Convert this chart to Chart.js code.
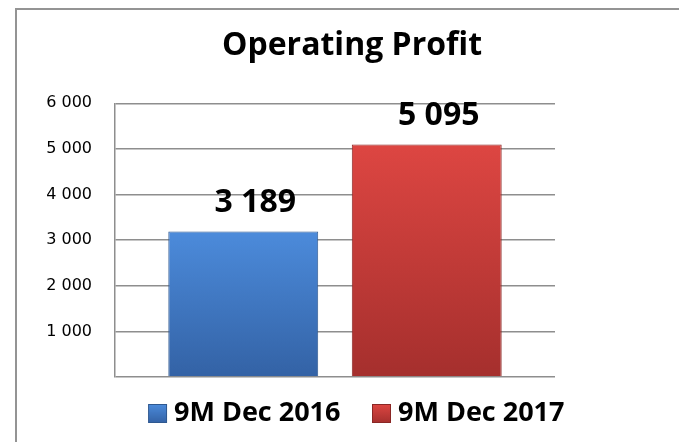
<!DOCTYPE html>
<html>
<head>
<meta charset="utf-8">
<script src="https://cdn.jsdelivr.net/npm/chart.js@4/dist/chart.umd.min.js"></script>
<style>
  html, body { margin: 0; padding: 0; background: #fff; overflow: hidden; width: 679px; height: 442px; }
  .frame { position: absolute; left: 15px; top: 8px; border: 2px solid #949494; width: 670px; height: 445px; }
  canvas { display: block; }
</style>
</head>
<body>
<div class="frame"><canvas id="profitChart" width="670" height="445"></canvas></div>
<script>
const titleText = 'Operating Profit';
const seriesLabels = ['9M Dec 2016', '9M Dec 2017'];
const seriesValues = [3189, 5095];
const categories = [''];
const yMax = 6000;
const yStep = 1000;

const topColors = ['#4c8bdb', '#dd4642'];
const bottomColors = ['#3362a5', '#a52f2d'];
const edgeColors = ['#2e5890', '#8a2725'];

// space as thousands separator, like the original
function fmt(v) {
    return String(v).replace(/\B(?=(\d{3})+(?!\d))/g, ' ');
}

function barFill(i) {
    return function(ctx) {
        const chart = ctx.chart;
        if (!chart.chartArea || !chart.scales.y) {
            return topColors[i];
        }
        const y = chart.scales.y;
        const top = y.getPixelForValue(seriesValues[i]);
        const bottom = y.getPixelForValue(0);
        const g = chart.ctx.createLinearGradient(0, top, 0, bottom);
        g.addColorStop(0, topColors[i]);
        g.addColorStop(1, bottomColors[i]);
        return g;
    };
}

// legend square: 40px wide image, the square sits at 18..37 so it ends just before the text
function legendBox(i) {
    const c = document.createElement('canvas');
    c.width = 40;
    c.height = 19;
    const cx = c.getContext('2d');
    const g = cx.createLinearGradient(0, 0, 0, 19);
    g.addColorStop(0, topColors[i]);
    g.addColorStop(1, bottomColors[i]);
    cx.fillStyle = g;
    cx.fillRect(18, 0, 19, 19);
    cx.strokeStyle = edgeColors[i];
    cx.lineWidth = 1;
    cx.strokeRect(18.5, 0.5, 18, 18);
    return c;
}
const legendBoxes = [legendBox(0), legendBox(1)];

const valueLabels = {
    id: 'valueLabels',
    afterDatasetsDraw(chart) {
        const ctx = chart.ctx;
        ctx.save();
        ctx.font = 'bold 32px "Open Sans"';
        ctx.fillStyle = '#000';
        ctx.textAlign = 'center';
        ctx.textBaseline = 'middle';
        chart.data.datasets.forEach((ds, i) => {
            const el = chart.getDatasetMeta(i).data[0];
            ctx.fillText(fmt(ds.data[0]), el.x + 12, el.y - 29);
        });
        ctx.restore();
    }
};

const datasets = seriesLabels.map((label, i) => ({
    label: label,
    data: [seriesValues[i]],
    backgroundColor: barFill(i),
    borderColor: edgeColors[i],
    borderWidth: 1,
    categoryPercentage: 0.834,
    barPercentage: 0.817
}));

new Chart(document.getElementById('profitChart'), {
    type: 'bar',
    data: {
        labels: categories,
        datasets: datasets
    },
    options: {
        responsive: false,
        animation: false,
        layout: { padding: { left: 0, right: 0, top: 0, bottom: 18 } },
        plugins: {
            title: {
                display: true,
                text: titleText,
                color: '#000',
                font: { family: '"Open Sans"', size: 32, weight: 'bold' },
                padding: { top: 16.5, bottom: 38.4 }
            },
            legend: {
                position: 'bottom',
                labels: {
                    color: '#000',
                    font: { family: '"Open Sans"', size: 27, weight: 'bold' },
                    usePointStyle: true,
                    boxWidth: 21,
                    boxHeight: 19,
                    padding: 23,
                    generateLabels(chart) {
                        const items = Chart.defaults.plugins.legend.labels.generateLabels(chart);
                        items.forEach((it, i) => { it.pointStyle = legendBoxes[i]; });
                        return items;
                    }
                }
            },
            tooltip: { enabled: false }
        },
        scales: {
            x: {
                display: false
            },
            y: {
                min: 0,
                max: yMax,
                afterFit(s) { s.width = 98; },
                ticks: {
                    stepSize: yStep,
                    padding: 23,
                    color: '#000',
                    font: { family: '"DejaVu Sans"', size: 16 },
                    callback: (v) => (v === 0 ? '' : fmt(v))
                },
                grid: { color: '#8e8e8e', lineWidth: 1.5, drawTicks: false },
                border: { display: true, color: '#8e8e8e', width: 1.5 }
            },
            yRight: {
                position: 'right',
                afterFit(s) { s.width = 132; },
                ticks: { display: false },
                grid: { display: false },
                border: { display: false }
            }
        }
    },
    plugins: [valueLabels]
});
</script>
</body>
</html>
